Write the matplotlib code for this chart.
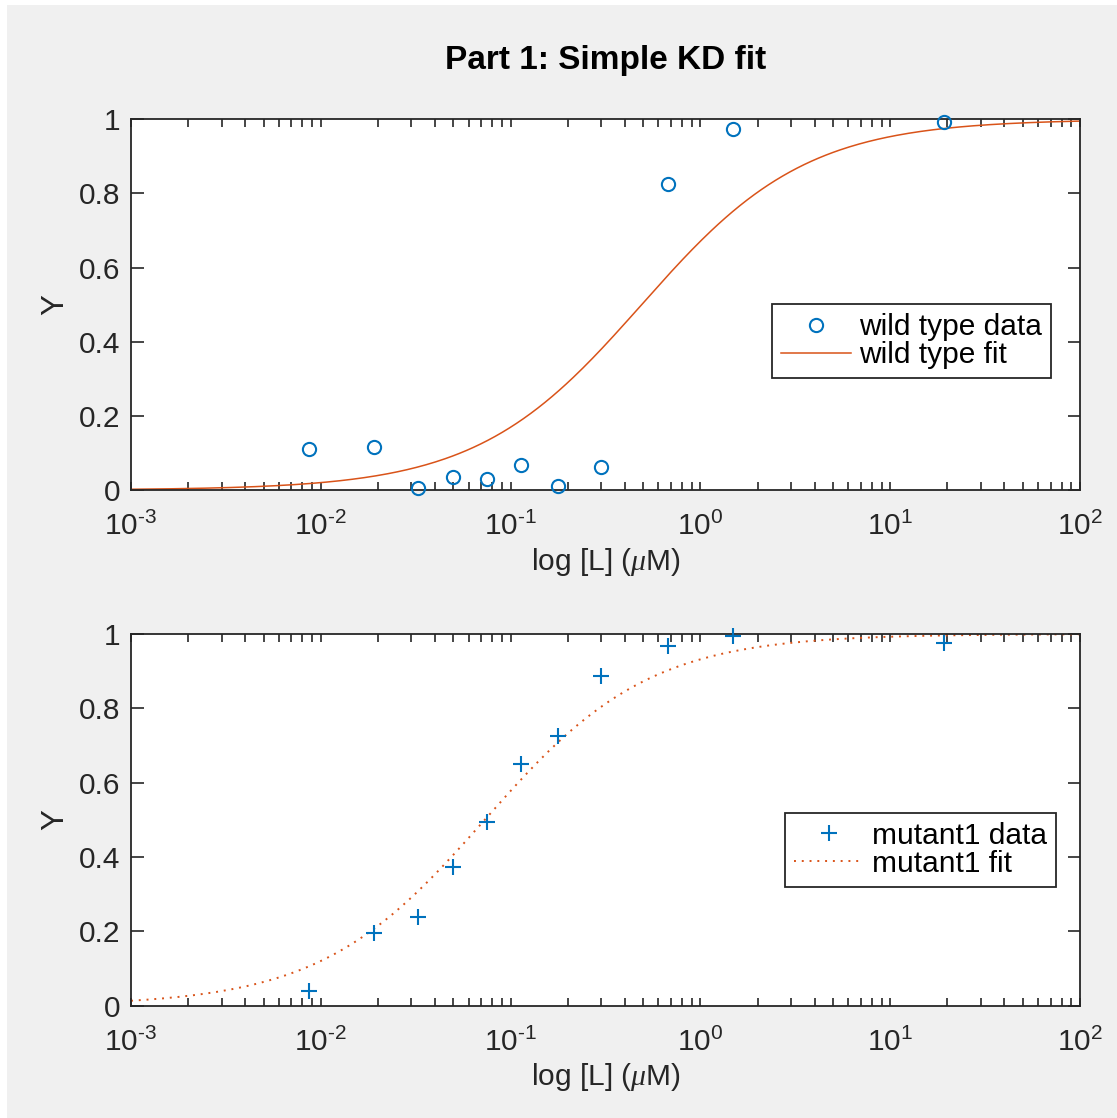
import numpy as np
import matplotlib
matplotlib.use("Agg")
import matplotlib.pyplot as plt
import matplotlib.patches as patches
from matplotlib.ticker import LogLocator, FixedLocator, FixedFormatter, NullFormatter, FuncFormatter

plt.rcParams["font.family"] = ["Liberation Sans", "DejaVu Sans"]
plt.rcParams["mathtext.fontset"] = "custom"
plt.rcParams["mathtext.rm"] = "Liberation Sans"
plt.rcParams["mathtext.it"] = "Liberation Serif:italic"
plt.rcParams["mathtext.default"] = "regular"

# ligand concentrations (uM), shared by both experiments
conc = [0.0087, 0.0191, 0.0326, 0.0499, 0.0754, 0.113, 0.177, 0.298, 0.678, 1.49, 19.2]
wt_y = [0.111, 0.117, 0.006, 0.036, 0.031, 0.067, 0.011, 0.061, 0.825, 0.974, 0.992]
mut_y = [0.040, 0.195, 0.240, 0.374, 0.493, 0.649, 0.726, 0.887, 0.968, 0.995, 0.975]

# fitted dissociation constants (uM)
kd_wt = 0.49
kd_mut = 0.073

y_ticks = [0, 0.2, 0.4, 0.6, 0.8, 1]
y_labels = ["0", "0.2", "0.4", "0.6", "0.8", "1"]

blue = "#0072BD"
orange = "#D95319"
axcol = "#262626"
fs = 21.5

L = np.logspace(-3, 2, 400)


def pow_label(v, pos):
    e = int(round(np.log10(v)))
    sign = r"\text{-}" if e < 0 else ""
    return r"$10^{%s%d}$" % (sign, abs(e))


fig = plt.figure(figsize=(11.17, 11.18), dpi=100, facecolor="white")
# grey figure panel (white strip on the left/top edge like the screenshot)
fig.patches.append(
    patches.Rectangle((7 / 1117, 0), 1, 1 - 5 / 1118, transform=fig.transFigure,
                      facecolor="#f0f0f0", edgecolor="none", zorder=-10)
)

ax1 = fig.add_axes([0.1173, 0.5617, 0.8496, 0.3316])
ax2 = fig.add_axes([0.1173, 0.1004, 0.8496, 0.3325])

ax1.plot(conc, wt_y, "o", ls="none", mfc="none", mec=blue, mew=1.5, ms=9.5,
         clip_on=False, zorder=4, label="wild type data")
ax1.plot(L, L / (kd_wt + L), "-", color=orange, lw=1.1, label="wild type fit")

ax2.plot(conc, mut_y, "+", ls="none", color=blue, mew=1.5, ms=12,
         clip_on=False, zorder=4, label="mutant1 data")
ax2.plot(L, L / (kd_mut + L), color=orange, lw=1.4, ls=(0, (1, 3)),
         label="mutant1 fit")

for ax in (ax1, ax2):
    ax.set_xscale("log")
    ax.set_xlim(1e-3, 1e2)
    ax.set_ylim(0, 1)
    ax.yaxis.set_major_locator(FixedLocator(y_ticks))
    ax.yaxis.set_major_formatter(FixedFormatter(y_labels))
    ax.xaxis.set_major_locator(LogLocator(base=10, numticks=10))
    ax.xaxis.set_major_formatter(FuncFormatter(pow_label))
    ax.xaxis.set_minor_locator(LogLocator(base=10, subs=np.arange(2, 10), numticks=10))
    ax.xaxis.set_minor_formatter(NullFormatter())
    ax.tick_params(which="both", direction="in", top=True, right=True,
                   colors=axcol, labelcolor=axcol, width=1.2, labelsize=fs)
    ax.tick_params(axis="x", which="both", length=6, pad=16)
    ax.tick_params(axis="y", which="major", length=9, pad=8)
    for s in ax.spines.values():
        s.set_color(axcol)
        s.set_linewidth(1.3)
    ax.set_xlabel(r"log [L] ($\mathit{\mu}$M)", fontsize=fs, color=axcol, labelpad=3)
    ax.set_ylabel("Y", fontsize=fs + 1, color=axcol, labelpad=6)
    ax.set_facecolor("white")

ax1.set_title("Part 1: Simple KD fit", fontsize=24, fontweight="bold", pad=36)

leg_kw = dict(loc="center right", fontsize=fs, frameon=True, fancybox=False,
              edgecolor=axcol, handlelength=2.35, handletextpad=0.27,
              borderpad=0.3, labelspacing=0.0, borderaxespad=0)
lg1 = ax1.legend(bbox_to_anchor=(0.9694, 0.402), **leg_kw)
lg2 = ax2.legend(bbox_to_anchor=(0.9747, 0.420), **leg_kw)
for lg in (lg1, lg2):
    lg.get_frame().set_linewidth(1.3)
    lg.get_frame().set_alpha(1)

fig.savefig("out.png", dpi=100, facecolor=fig.get_facecolor())
